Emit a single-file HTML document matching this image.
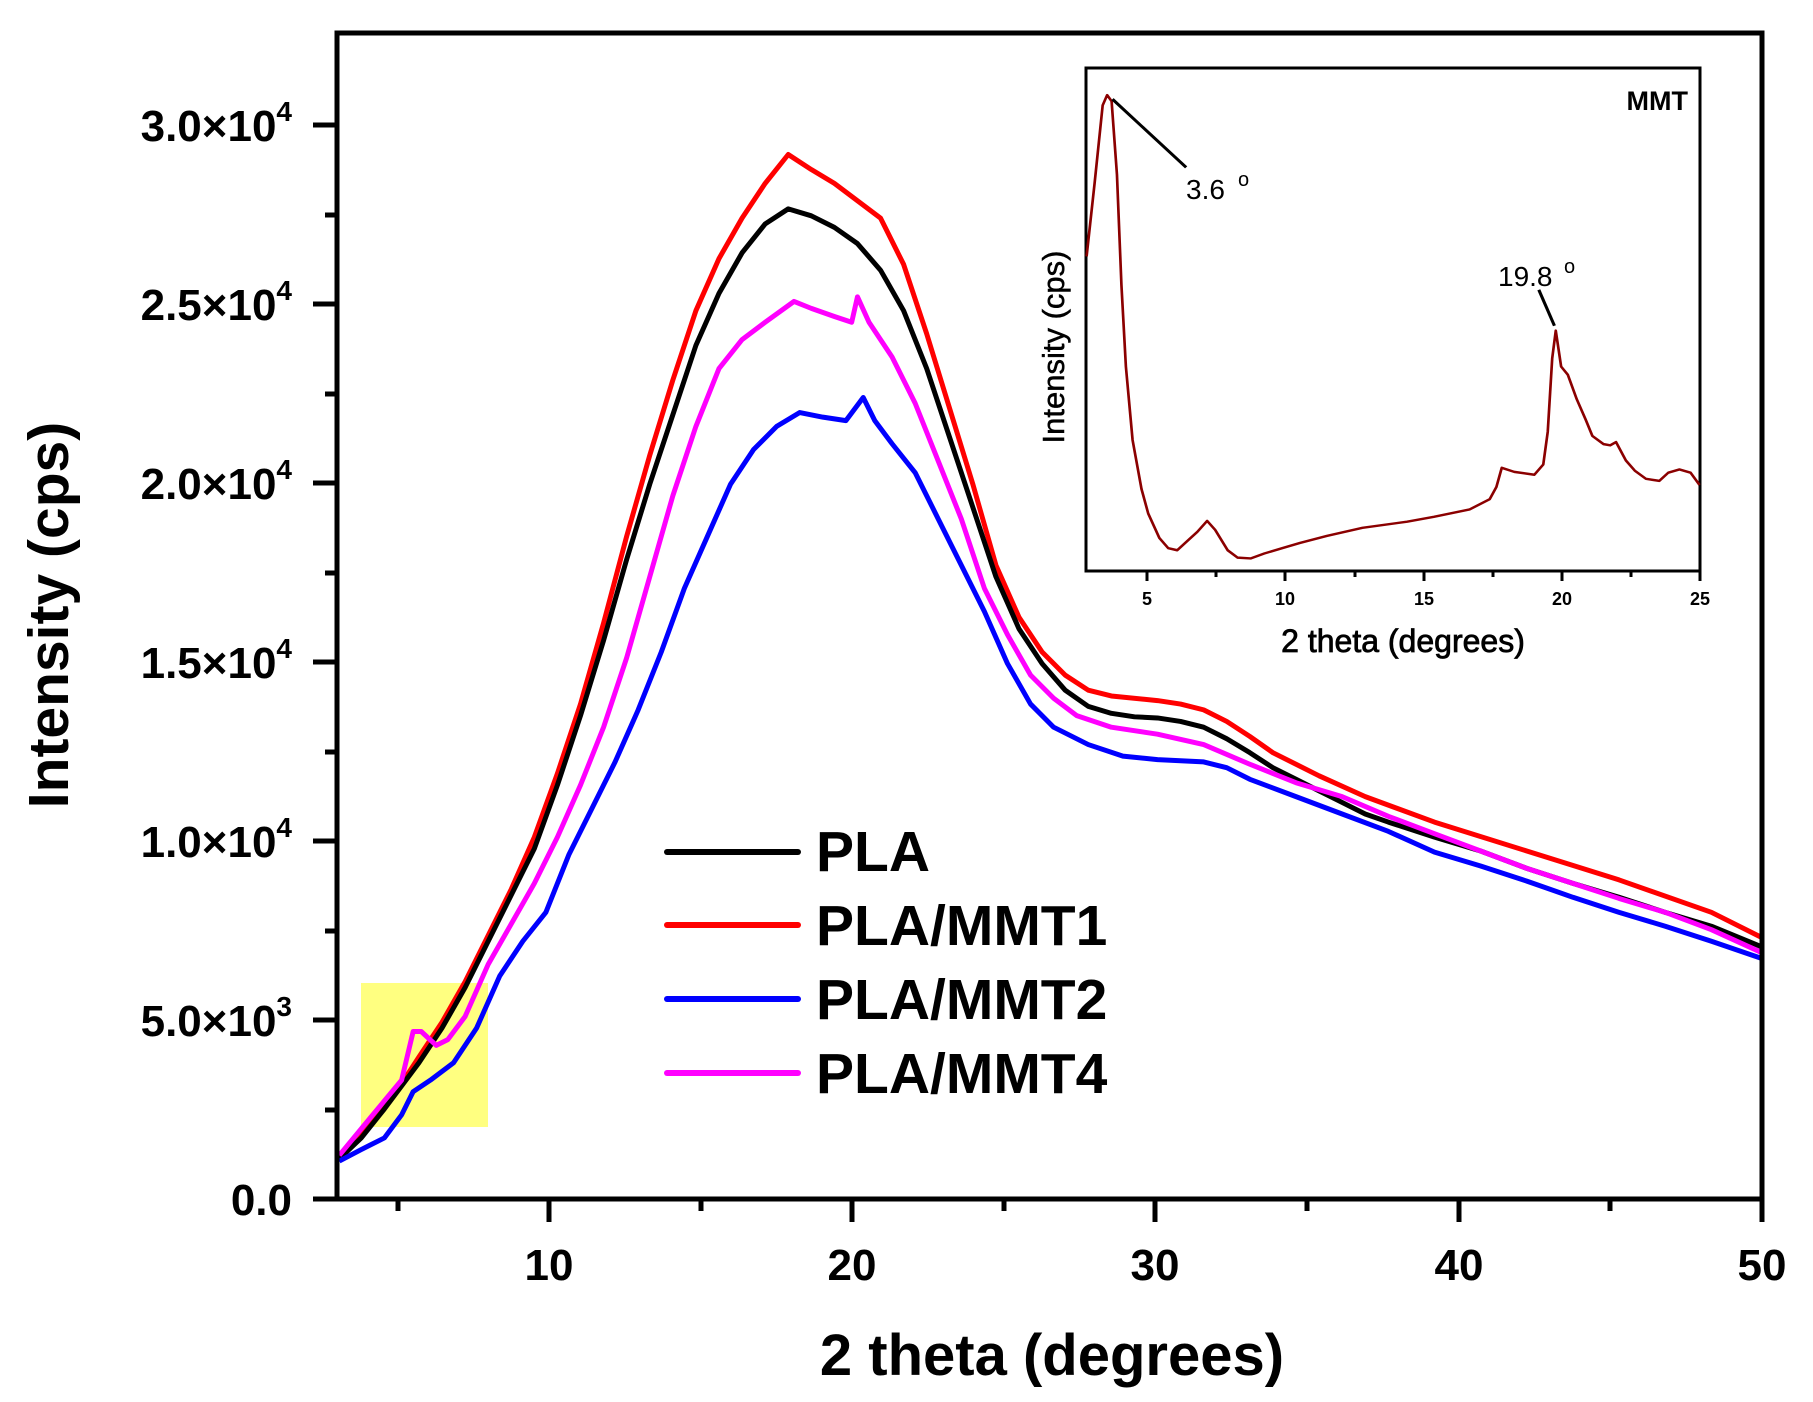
<!DOCTYPE html>
<html><head><meta charset="utf-8"><style>
html,body{margin:0;padding:0;background:#fff;}
svg{display:block;}
text{font-family:"Liberation Sans",Arial,sans-serif;}
</style></head><body>
<svg width="1813" height="1402" viewBox="0 0 1813 1402" xmlns="http://www.w3.org/2000/svg">
<rect width="1813" height="1402" fill="#fff"/>
<rect x="361" y="983" width="127" height="144" fill="#ffff80"/>
<g fill="none" stroke-width="4.3" stroke-linejoin="round" transform="matrix(1.154 0 0 1.157 3.5 -1.7)">
<polyline stroke="#ff0000" points="291,1000 310,983 330,958 345,938 360,915 380,885 400,850 420,810 440,770 460,725 480,670 500,610 520,540 540,465 560,395 580,330 600,270 620,225 640,190 660,160 680,135 700,148 720,160 740,175 760,190 780,230 800,290 820,355 840,420 860,490 880,535 900,565 920,585 940,598 960,603 1000,607 1020,610 1040,615 1060,625 1080,638 1100,652 1140,672 1180,690 1240,712 1320,737 1400,762 1480,790 1524,812"/>
<polyline stroke="#000000" points="291,1003 310,985 330,960 345,940 360,920 380,890 400,855 420,815 440,775 460,735 480,680 500,620 520,555 540,485 560,420 580,360 600,300 620,255 640,220 660,195 680,182 700,188 720,198 740,212 760,235 780,270 800,320 820,380 840,440 860,500 880,545 900,575 920,598 940,612 960,618 980,621 1000,622 1020,625 1040,630 1060,640 1080,652 1100,665 1120,675 1140,685 1160,695 1180,705 1200,712 1240,725 1280,737 1320,752 1360,765 1400,777 1440,790 1480,802 1524,820"/>
<polyline stroke="#ff00ff" points="291,1000 320,965 345,935 355,893 362,893 375,905 385,900 400,880 420,835 440,800 460,765 480,725 500,680 520,630 540,570 560,500 580,430 600,370 620,320 640,295 660,280 685,262 700,268 720,275 735,280 740,258 750,280 770,310 790,350 810,400 830,450 850,510 870,550 890,585 910,605 930,620 960,630 1000,636 1040,645 1080,662 1120,678 1160,690 1200,707 1240,722 1280,737 1320,752 1360,765 1400,778 1440,790 1480,805 1524,825"/>
<polyline stroke="#0000ff" points="291,1005 310,995 330,985 345,965 355,945 370,935 390,920 410,890 430,845 450,815 470,790 490,740 510,700 530,660 550,615 570,565 590,510 610,465 630,420 650,390 670,370 690,358 710,362 730,365 745,345 755,365 770,385 790,410 810,450 830,490 850,530 870,575 890,610 910,630 940,645 970,655 1000,658 1040,660 1060,665 1080,675 1120,690 1160,705 1200,720 1240,738 1280,750 1320,763 1360,777 1400,790 1440,802 1480,815 1524,830"/>
</g>
<rect x="337" y="33" width="1425" height="1166" fill="none" stroke="#000" stroke-width="5"/>
<g stroke="#000" stroke-width="5">
<line x1="313" y1="1199" x2="337" y2="1199"/><line x1="313" y1="1020" x2="337" y2="1020"/><line x1="313" y1="841" x2="337" y2="841"/><line x1="313" y1="662" x2="337" y2="662"/><line x1="313" y1="483" x2="337" y2="483"/><line x1="313" y1="304" x2="337" y2="304"/><line x1="313" y1="125" x2="337" y2="125"/>
<line x1="325" y1="1110" x2="337" y2="1110"/><line x1="325" y1="931" x2="337" y2="931"/><line x1="325" y1="752" x2="337" y2="752"/><line x1="325" y1="573" x2="337" y2="573"/><line x1="325" y1="394" x2="337" y2="394"/><line x1="325" y1="215" x2="337" y2="215"/>
<line x1="549" y1="1199" x2="549" y2="1222"/><line x1="852" y1="1199" x2="852" y2="1222"/><line x1="1155" y1="1199" x2="1155" y2="1222"/><line x1="1459" y1="1199" x2="1459" y2="1222"/><line x1="1762" y1="1199" x2="1762" y2="1222"/>
<line x1="398" y1="1199" x2="398" y2="1211"/><line x1="701" y1="1199" x2="701" y2="1211"/><line x1="1004" y1="1199" x2="1004" y2="1211"/><line x1="1307" y1="1199" x2="1307" y2="1211"/><line x1="1610" y1="1199" x2="1610" y2="1211"/>
</g>
<g font-size="44" font-weight="bold" text-anchor="end">
<text x="292" y="1215">0.0</text>
<text x="292" y="1036">5.0×10<tspan font-size="28" dy="-20">3</tspan></text>
<text x="292" y="857">1.0×10<tspan font-size="28" dy="-20">4</tspan></text>
<text x="292" y="678">1.5×10<tspan font-size="28" dy="-20">4</tspan></text>
<text x="292" y="499">2.0×10<tspan font-size="28" dy="-20">4</tspan></text>
<text x="292" y="320">2.5×10<tspan font-size="28" dy="-20">4</tspan></text>
<text x="292" y="141">3.0×10<tspan font-size="28" dy="-20">4</tspan></text>
</g>
<g font-size="44" font-weight="bold" text-anchor="middle">
<text x="549" y="1280">10</text><text x="852" y="1280">20</text><text x="1155" y="1280">30</text><text x="1459" y="1280">40</text><text x="1762" y="1280">50</text>
</g>
<text x="1052" y="1375" font-size="58" font-weight="bold" text-anchor="middle">2 theta (degrees)</text>
<text transform="translate(68,615) rotate(-90)" font-size="57" font-weight="bold" text-anchor="middle">Intensity (cps)</text>
<g stroke-width="6" stroke-linecap="round">
<line x1="667" y1="852" x2="798" y2="852" stroke="#000"/>
<line x1="667" y1="925" x2="798" y2="925" stroke="#ff0000"/>
<line x1="667" y1="999" x2="798" y2="999" stroke="#0000ff"/>
<line x1="667" y1="1073" x2="798" y2="1073" stroke="#ff00ff"/>
</g>
<g font-size="57" font-weight="bold">
<text x="816" y="871">PLA</text><text x="816" y="945">PLA/MMT1</text><text x="816" y="1019">PLA/MMT2</text><text x="816" y="1093">PLA/MMT4</text>
</g>
<!-- inset -->
<rect x="1086" y="68" width="614" height="503" fill="#fff" stroke="#000" stroke-width="3"/>
<g transform="translate(1050,40) scale(0.4464,0.4082)">
<polyline fill="none" stroke="#8b0000" stroke-width="6" stroke-linejoin="round" points="82,530 100,350 118,160 128,135 138,150 150,330 160,600 170,800 185,980 205,1100 220,1160 245,1220 265,1245 285,1250 310,1225 330,1205 352,1178 370,1200 398,1250 420,1268 450,1270 480,1258 520,1245 560,1232 620,1215 700,1195 800,1180 860,1168 940,1150 985,1125 1000,1095 1012,1048 1040,1058 1085,1065 1105,1040 1115,960 1125,780 1133,712 1145,800 1160,820 1180,880 1200,930 1215,970 1240,990 1255,993 1268,985 1290,1030 1310,1055 1335,1075 1365,1080 1385,1060 1410,1052 1435,1060 1455,1090"/>
<line x1="140" y1="145" x2="305" y2="312" stroke="#000" stroke-width="7"/>
<line x1="1095" y1="612" x2="1130" y2="700" stroke="#000" stroke-width="7"/>
</g>
<g stroke="#000" stroke-width="3">
<line x1="1147" y1="571" x2="1147" y2="581"/><line x1="1285" y1="571" x2="1285" y2="581"/><line x1="1424" y1="571" x2="1424" y2="581"/><line x1="1562" y1="571" x2="1562" y2="581"/><line x1="1700" y1="571" x2="1700" y2="581"/>
<line x1="1216" y1="571" x2="1216" y2="577"/><line x1="1355" y1="571" x2="1355" y2="577"/><line x1="1493" y1="571" x2="1493" y2="577"/><line x1="1631" y1="571" x2="1631" y2="577"/>
</g>
<g font-size="18" font-weight="bold" text-anchor="middle">
<text x="1147" y="605">5</text><text x="1285" y="605">10</text><text x="1424" y="605">15</text><text x="1562" y="605">20</text><text x="1700" y="605">25</text>
</g>
<text x="1403" y="652" font-size="32" text-anchor="middle" stroke="#000" stroke-width="0.8">2 theta (degrees)</text>
<text transform="translate(1064,347) rotate(-90)" font-size="31" text-anchor="middle" stroke="#000" stroke-width="0.5">Intensity (cps)</text>
<text x="1688" y="110" font-size="27" font-weight="bold" text-anchor="end">MMT</text>
<text x="1186" y="199" font-size="28">3.6</text><text x="1238" y="186" font-size="20">o</text>
<text x="1498" y="286" font-size="28">19.8</text><text x="1564" y="273" font-size="20">o</text>
</svg>
</body></html>
